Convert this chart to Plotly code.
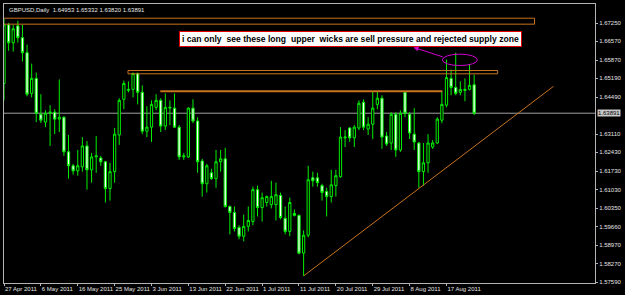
import pandas as pd
import plotly.graph_objects as go

SYMBOL = "GBPUSD"
TIMEFRAME = "Daily"
START_DATE = "2011-04-27"
END_DATE = "2011-08-24"

OPEN = [1.6500, 1.6719, 1.6652, 1.6715, 1.6671, 1.6615, 1.6463, 1.6519, 1.6385, 1.6356,
        1.6389, 1.6393, 1.6367, 1.6374, 1.6245, 1.6193, 1.6174, 1.6189, 1.6267, 1.6178,
        1.6226, 1.6222, 1.6208, 1.6108, 1.6171, 1.6308, 1.6441, 1.6474, 1.6478, 1.6537,
        1.6467, 1.6322, 1.6337, 1.6411, 1.6437, 1.6341, 1.6408, 1.6408, 1.6337, 1.6226,
        1.6226, 1.6408, 1.6360, 1.6211, 1.6126, 1.6167, 1.6145, 1.6208, 1.6219, 1.6041,
        1.6019, 1.5963, 1.5930, 1.5967, 1.5985, 1.6104, 1.6037, 1.6056, 1.6048, 1.6048,
        1.6082, 1.5997, 1.5948, 1.6015, 1.6008, 1.5867, 1.5934, 1.6148, 1.6148, 1.6119,
        1.6097, 1.6078, 1.6119, 1.6152, 1.6297, 1.6334, 1.6297, 1.6334, 1.6430, 1.6330,
        1.6348, 1.6422, 1.6445, 1.6304, 1.6278, 1.6385, 1.6252, 1.6467, 1.6385, 1.6311,
        1.6278, 1.6171, 1.6204, 1.6263, 1.6278, 1.6363, 1.6419, 1.6519, 1.6485, 1.6467,
        1.6474, 1.6478, 1.64953]
HIGH = [1.6741, 1.6726, 1.6719, 1.6734, 1.6719, 1.6645, 1.6574, 1.6541, 1.6460, 1.6400,
        1.6419, 1.6404, 1.6515, 1.6378, 1.6308, 1.6200, 1.6252, 1.6300, 1.6285, 1.6241,
        1.6304, 1.6230, 1.6211, 1.6204, 1.6334, 1.6445, 1.6511, 1.6508, 1.6541, 1.6541,
        1.6493, 1.6415, 1.6437, 1.6460, 1.6445, 1.6463, 1.6437, 1.6463, 1.6345, 1.6241,
        1.6411, 1.6441, 1.6374, 1.6219, 1.6200, 1.6182, 1.6252, 1.6252, 1.6260, 1.6045,
        1.6041, 1.5971, 1.6011, 1.6041, 1.6115, 1.6119, 1.6093, 1.6082, 1.6137, 1.6130,
        1.6093, 1.6041, 1.6074, 1.6030, 1.6011, 1.5952, 1.6193, 1.6171, 1.6167, 1.6126,
        1.6111, 1.6178, 1.6178, 1.6337, 1.6326, 1.6337, 1.6345, 1.6437, 1.6441, 1.6374,
        1.6471, 1.6471, 1.6456, 1.6319, 1.6393, 1.6393, 1.6400, 1.6471, 1.6393, 1.6408,
        1.6282, 1.6278, 1.6311, 1.6289, 1.6374, 1.6471, 1.6589, 1.6552, 1.6615, 1.6508,
        1.6519, 1.6571, 1.65332]
LOW = [1.6437, 1.6622, 1.6619, 1.6652, 1.6582, 1.6452, 1.6448, 1.6356, 1.6352, 1.6337,
       1.6267, 1.6311, 1.6319, 1.6230, 1.6145, 1.6160, 1.6156, 1.6171, 1.6104, 1.6130,
       1.6167, 1.6193, 1.6056, 1.6063, 1.6130, 1.6271, 1.6404, 1.6467, 1.6448, 1.6422,
       1.6311, 1.6300, 1.6282, 1.6400, 1.6319, 1.6326, 1.6345, 1.6334, 1.6215, 1.6215,
       1.6222, 1.6352, 1.6167, 1.6078, 1.6093, 1.6141, 1.6111, 1.6171, 1.6037, 1.5937,
       1.5948, 1.5919, 1.5911, 1.5948, 1.5971, 1.6004, 1.5985, 1.6041, 1.6034, 1.5989,
       1.5993, 1.5937, 1.5930, 1.6004, 1.5863, 1.5782, 1.5926, 1.6115, 1.6115, 1.6063,
       1.6004, 1.6056, 1.6078, 1.6148, 1.6263, 1.6282, 1.6263, 1.6326, 1.6326, 1.6308,
       1.6293, 1.6404, 1.6256, 1.6267, 1.6252, 1.6226, 1.6245, 1.6374, 1.6293, 1.6252,
       1.6111, 1.6119, 1.6167, 1.6256, 1.6274, 1.6352, 1.6411, 1.6456, 1.6456, 1.6456,
       1.6434, 1.6474, 1.63820]
CLOSE = [1.6719, 1.6652, 1.6704, 1.6671, 1.6615, 1.6460, 1.6519, 1.6389, 1.6363, 1.6389,
         1.6393, 1.6367, 1.6374, 1.6245, 1.6193, 1.6174, 1.6193, 1.6267, 1.6178, 1.6226,
         1.6230, 1.6208, 1.6108, 1.6171, 1.6311, 1.6437, 1.6500, 1.6478, 1.6537, 1.6467,
         1.6322, 1.6337, 1.6422, 1.6437, 1.6341, 1.6411, 1.6411, 1.6337, 1.6226, 1.6230,
         1.6408, 1.6360, 1.6208, 1.6126, 1.6193, 1.6145, 1.6208, 1.6219, 1.6041, 1.6019,
         1.5959, 1.5930, 1.5967, 1.5989, 1.6104, 1.6037, 1.6074, 1.6078, 1.6078, 1.6085,
         1.6000, 1.5948, 1.6056, 1.6008, 1.5867, 1.5934, 1.6141, 1.6137, 1.6130, 1.6093,
         1.6078, 1.6122, 1.6156, 1.6300, 1.6300, 1.6297, 1.6337, 1.6426, 1.6337, 1.6348,
         1.6408, 1.6445, 1.6300, 1.6274, 1.6385, 1.6252, 1.6389, 1.6389, 1.6315, 1.6282,
         1.6171, 1.6204, 1.6278, 1.6278, 1.6367, 1.6422, 1.6522, 1.6485, 1.6463, 1.6478,
         1.6478, 1.6493, 1.63891]

X_LABEL_DATES = ["2011-04-27", "2011-05-06", "2011-05-16", "2011-05-25", "2011-06-03",
                 "2011-06-13", "2011-06-22", "2011-07-01", "2011-07-11", "2011-07-20",
                 "2011-07-29", "2011-08-08", "2011-08-17"]
Y_TICKS = [1.67250, 1.66570, 1.65870, 1.65190, 1.64490, 1.63110, 1.62430, 1.61730,
           1.61030, 1.60350, 1.59660, 1.58970, 1.58270, 1.57590]

# drawn objects (bar index, price)
TOP_BOX = [-5, 115.1, 1.67213, 1.67435]
SUPPLY_BOX = [26.9, 107.1, 1.65361, 1.65483]
RESIST_LINE = [33.9, 95.1, 1.64706]
TRENDLINE = [65, 1.5782, 119.2, 1.64891]
WICK_ELLIPSE = [95.1, 102.7, 1.65669, 1.66095]
ARROW = [88.85, 1.66346, 95.5, 1.65976]
NOTE_POS = [75.17, 1.66669]
NOTE_TEXT = "i can only\u00a0 see these long\u00a0 upper\u00a0 wicks are sell pressure and rejected supply zone"

X_RANGE = [0, 128.22]
Y_RANGE = [1.57557, 1.67965]

days = pd.date_range(START_DATE, END_DATE, freq="D")
dates = [d.strftime("%Y-%m-%d") for d in days if d.weekday() != 5]
ticktext = [f"{pd.Timestamp(d).day} {pd.Timestamp(d).strftime('%b %Y')}" for d in X_LABEL_DATES]

ORANGE = "#C8731E"
MAGENTA = "#D000D0"
GREEN = "#00EE00"
FRAME = "#B4B4B4"
TXT = "#E6E6E6"
FONT = "Liberation Sans"

fig = go.Figure()
fig.add_trace(go.Candlestick(
    x=dates, open=OPEN, high=HIGH, low=LOW, close=CLOSE,
    increasing=dict(line=dict(color=GREEN, width=1), fillcolor="#000000"),
    decreasing=dict(line=dict(color=GREEN, width=1), fillcolor="#FFFFFF"),
    showlegend=False, hoverinfo="skip",
))

shapes = [
    dict(type="rect", xref="x", yref="y", x0=TOP_BOX[0], x1=TOP_BOX[1], y0=TOP_BOX[2], y1=TOP_BOX[3],
         line=dict(color=ORANGE, width=1), fillcolor="rgba(0,0,0,0)"),
    dict(type="rect", xref="x", yref="y", x0=SUPPLY_BOX[0], x1=SUPPLY_BOX[1], y0=SUPPLY_BOX[2], y1=SUPPLY_BOX[3],
         line=dict(color=ORANGE, width=1), fillcolor="rgba(0,0,0,0)"),
    dict(type="line", xref="x", yref="y", x0=RESIST_LINE[0], x1=RESIST_LINE[1], y0=RESIST_LINE[2], y1=RESIST_LINE[2],
         line=dict(color=ORANGE, width=2)),
    dict(type="line", xref="x", yref="y", x0=TRENDLINE[0], y0=TRENDLINE[1], x1=TRENDLINE[2], y1=TRENDLINE[3],
         line=dict(color=ORANGE, width=1)),
    dict(type="circle", xref="x", yref="y", x0=WICK_ELLIPSE[0], x1=WICK_ELLIPSE[1], y0=WICK_ELLIPSE[2], y1=WICK_ELLIPSE[3],
         line=dict(color=MAGENTA, width=1)),
    dict(type="line", xref="paper", yref="y", x0=0, x1=1, y0=CLOSE[-1], y1=CLOSE[-1],
         line=dict(color="#A0A0A0", width=1), layer="below"),
]

annotations = [
    dict(xref="paper", yref="paper", x=0, y=1, xanchor="left", yanchor="top", xshift=3, yshift=-1,
         text=f"{SYMBOL},{TIMEFRAME}\u00a0 {OPEN[-1]:.5f} {HIGH[-1]:.5f} {LOW[-1]:.5f} {CLOSE[-1]:.5f}",
         showarrow=False, font=dict(family=FONT, size=6, color=TXT)),
    dict(xref="x", yref="y", x=NOTE_POS[0], y=NOTE_POS[1], text=NOTE_TEXT, showarrow=False,
         font=dict(family=FONT, size=8.6, color="#000000", weight="bold"),
         bgcolor="#FFFFFF", bordercolor="#E00000", borderwidth=1, borderpad=2),
    dict(xref="x", yref="y", axref="x", ayref="y", x=ARROW[0], y=ARROW[1], ax=ARROW[2], ay=ARROW[3],
         text="", showarrow=True, arrowhead=2, arrowsize=1, arrowwidth=1, arrowcolor=MAGENTA, standoff=0),
    dict(xref="paper", yref="y", x=1, y=CLOSE[-1], xanchor="left", yanchor="middle", xshift=2,
         text=f"{CLOSE[-1]:.5f}", showarrow=False, bgcolor="#C8C8C8",
         font=dict(family=FONT, size=6, color="#000000"), borderpad=0),
]

fig.update_layout(
    width=625, height=295,
    margin=dict(l=3, r=25, t=3, b=11),
    paper_bgcolor="#000000", plot_bgcolor="#000000",
    shapes=shapes, annotations=annotations,
    xaxis=dict(type="category", range=X_RANGE, rangeslider=dict(visible=False),
               tickvals=X_LABEL_DATES, ticktext=ticktext, ticklabelposition="outside right",
               tickangle=0, ticks="outside", ticklen=2, tickcolor=FRAME,
               tickfont=dict(family=FONT, size=6, color=TXT),
               showgrid=False, zeroline=False, showline=True, linecolor=FRAME, linewidth=1, mirror=True),
    yaxis=dict(side="right", range=Y_RANGE, tickvals=Y_TICKS, tickformat=".5f",
               ticks="outside", ticklen=2, tickcolor=FRAME,
               tickfont=dict(family=FONT, size=6, color=TXT),
               showgrid=False, zeroline=False, showline=True, linecolor=FRAME, linewidth=1, mirror=True),
)

fig.write_html("out.html")
